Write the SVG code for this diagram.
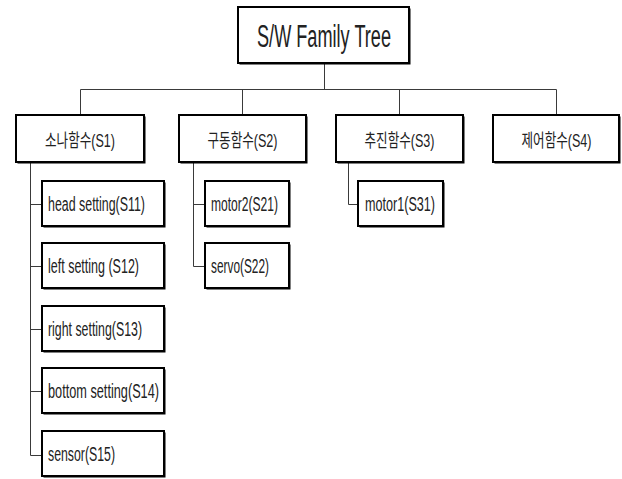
<svg xmlns="http://www.w3.org/2000/svg" width="622" height="479" viewBox="0 0 622 479">
<style>
.bg{fill:#ffffff}
.sh{fill:#000000}
.box{fill:#ffffff;stroke:#000000;stroke-width:2}
.ln{fill:none;stroke:#3a3a3a;stroke-width:1}
.t{font-family:"Liberation Sans","Noto Sans CJK KR",sans-serif;fill:#222222}
.k{font-family:"Liberation Sans","Noto Sans CJK KR",sans-serif;fill:#222222;font-size:18px}
.c{font-size:20px}
</style>
<rect class="bg" x="0" y="0" width="622" height="479"/>
<g id="connectors">
<path class="ln" d="M324.5 63V89.5M80.5 89.5H556.5M80.5 89.5V115M242.5 89.5V115M399.5 89.5V115M556.5 89.5V115"/>
<path class="ln" d="M30.5 162V455.5H42M30.5 204.5H42M30.5 266.5H42M30.5 329.5H42M30.5 391.5H42"/>
<path class="ln" d="M193.5 162V266.5H205M193.5 204.5H205"/>
<path class="ln" d="M348.5 162V204.5H358"/>
</g>
<g id="root">
<rect class="sh" x="239.5" y="8.5" width="171" height="56"/>
<rect class="box" x="238" y="7" width="171" height="56"/>
<text class="t" x="257" y="47" font-size="31" textLength="134" lengthAdjust="spacingAndGlyphs">S/W Family Tree</text>
</g>
<g id="s1">
<rect class="sh" x="17.5" y="116.5" width="128" height="47"/>
<rect class="box" x="16" y="115" width="128" height="47"/>
<text class="k" x="45" y="147" textLength="70" lengthAdjust="spacingAndGlyphs">소나함수(S1)</text>
</g>
<g id="s2">
<rect class="sh" x="180.5" y="116.5" width="127" height="47"/>
<rect class="box" x="179" y="115" width="127" height="47"/>
<text class="k" x="207.5" y="147" textLength="70" lengthAdjust="spacingAndGlyphs">구동함수(S2)</text>
</g>
<g id="s3">
<rect class="sh" x="337.5" y="116.5" width="127" height="47"/>
<rect class="box" x="336" y="115" width="127" height="47"/>
<text class="k" x="364.5" y="147" textLength="70" lengthAdjust="spacingAndGlyphs">추진함수(S3)</text>
</g>
<g id="s4">
<rect class="sh" x="494.5" y="116.5" width="126" height="47"/>
<rect class="box" x="493" y="115" width="126" height="47"/>
<text class="k" x="521.5" y="147" textLength="70" lengthAdjust="spacingAndGlyphs">제어함수(S4)</text>
</g>
<g id="s11">
<rect class="sh" x="43.5" y="182.5" width="122" height="45"/>
<rect class="box" x="42" y="181" width="122" height="45"/>
<text class="t c" x="48" y="211" textLength="97" lengthAdjust="spacingAndGlyphs">head setting(S11)</text>
</g>
<g id="s12">
<rect class="sh" x="43.5" y="244.5" width="122" height="45"/>
<rect class="box" x="42" y="243" width="122" height="45"/>
<text class="t c" x="48" y="273" textLength="91" lengthAdjust="spacingAndGlyphs">left setting (S12)</text>
</g>
<g id="s13">
<rect class="sh" x="43.5" y="307.5" width="122" height="45"/>
<rect class="box" x="42" y="306" width="122" height="45"/>
<text class="t c" x="48" y="336" textLength="94" lengthAdjust="spacingAndGlyphs">right setting(S13)</text>
</g>
<g id="s14">
<rect class="sh" x="43.5" y="369.5" width="122" height="45"/>
<rect class="box" x="42" y="368" width="122" height="45"/>
<text class="t c" x="48" y="398" textLength="111" lengthAdjust="spacingAndGlyphs">bottom setting(S14)</text>
</g>
<g id="s15">
<rect class="sh" x="43.5" y="432.5" width="122" height="45"/>
<rect class="box" x="42" y="431" width="122" height="45"/>
<text class="t c" x="48" y="461" textLength="67" lengthAdjust="spacingAndGlyphs">sensor(S15)</text>
</g>
<g id="s21">
<rect class="sh" x="206.5" y="182.5" width="84" height="45"/>
<rect class="box" x="205" y="181" width="84" height="45"/>
<text class="t c" x="211" y="211" textLength="67" lengthAdjust="spacingAndGlyphs">motor2(S21)</text>
</g>
<g id="s22">
<rect class="sh" x="206.5" y="244.5" width="84" height="45"/>
<rect class="box" x="205" y="243" width="84" height="45"/>
<text class="t c" x="211" y="273" textLength="58" lengthAdjust="spacingAndGlyphs">servo(S22)</text>
</g>
<g id="s31">
<rect class="sh" x="359.5" y="182.5" width="85" height="45"/>
<rect class="box" x="358" y="181" width="85" height="45"/>
<text class="t c" x="365" y="211" textLength="70" lengthAdjust="spacingAndGlyphs">motor1(S31)</text>
</g>
</svg>
